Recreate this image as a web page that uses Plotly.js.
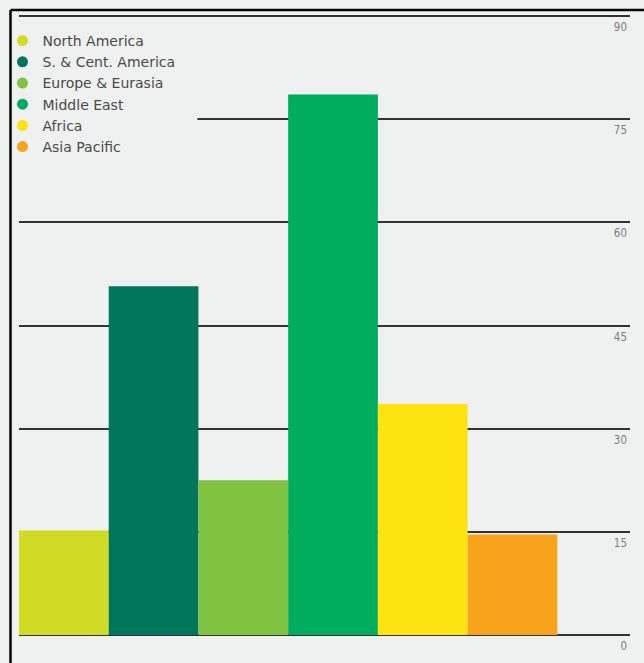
<!DOCTYPE html>
<html>
<head>
<meta charset="utf-8">
<script src="https://cdn.plot.ly/plotly-3.0.1.min.js"></script>
<style>html,body{margin:0;padding:0;background:#eff0f0;}#chart{width:644px;height:663px;}</style>
</head>
<body>
<div id="chart"></div>
<script>
const regions = ["North America", "S. & Cent. America", "Europe & Eurasia", "Middle East", "Africa", "Asia Pacific"];
const values = [15.2, 50.7, 22.5, 78.6, 33.6, 14.6];
const colors = ["#d3dc24", "#00765a", "#80c242", "#00ad5e", "#fde30f", "#f7a31c"];
const yTicks = [0, 15, 30, 45, 60, 75, 90];

const traces = [];
regions.forEach((r, i) => {
  traces.push({
    type: "bar", x: [r], y: [values[i]], name: r, width: 1,
    marker: {color: colors[i], line: {width: 0}},
    showlegend: false, hoverinfo: "x+y"
  });
});
regions.forEach((r, i) => {
  traces.push({
    type: "scatter", mode: "markers", x: [null], y: [null], name: r,
    marker: {color: colors[i], size: 11, symbol: "circle"},
    showlegend: true, hoverinfo: "skip"
  });
});

// plot area: ~6.878 px per unit; y=90 at px 16, y=0 at px 635
const yMin = -3.93, yMax = 90.3;
const layout = {
  width: 644, height: 663,
  paper_bgcolor: "#eff0f0", plot_bgcolor: "#eff0f0",
  margin: {l: 19, r: 14, t: 14, b: 1, autoexpand: false},
  barmode: "overlay",
  showlegend: true,
  legend: {
    x: -0.027, xanchor: "left", y: 0.983, yanchor: "top",
    bgcolor: "rgba(0,0,0,0)", borderwidth: 0,
    font: {family: "DejaVu Sans, Open Sans, sans-serif", size: 14, color: "#4a4a4a"},
    tracegroupgap: 0, itemclick: false
  },
  xaxis: {
    type: "category", categoryarray: regions, categoryorder: "array",
    range: [-0.5, 6.31], showticklabels: false, showgrid: false,
    zeroline: false, showline: false, ticks: "", fixedrange: true
  },
  yaxis: {
    range: [yMin, yMax], tickvals: yTicks, ticktext: yTicks.map(String),
    side: "right", ticklabelposition: "inside", ticklabelshift: 11,
    ticklabelstandoff: 0,
    tickfont: {family: "DejaVu Sans Condensed, Liberation Sans Narrow, sans-serif", size: 11.5, color: "#7d7d7d"},
    showgrid: true, gridcolor: "#333333", gridwidth: 2,
    zeroline: false, showline: false, ticks: "", fixedrange: true
  },
  shapes: [
    {type: "rect", xref: "paper", yref: "paper", x0: 0, x1: 0.292, y0: 0.78, y1: 0.85,
     fillcolor: "#eff0f0", line: {width: 0}, layer: "above"},
    {type: "line", xref: "paper", yref: "paper", x0: -0.0139, x1: 1.03, y0: 1.006, y1: 1.006,
     line: {color: "#000", width: 2.5}},
    {type: "line", xref: "paper", yref: "paper", x0: -0.0139, x1: -0.0139, y0: 1.006, y1: -0.01,
     line: {color: "#000", width: 2.5}}
  ]
};

Plotly.newPlot("chart", traces, layout, {displayModeBar: false, staticPlot: true});
</script>
</body>
</html>
